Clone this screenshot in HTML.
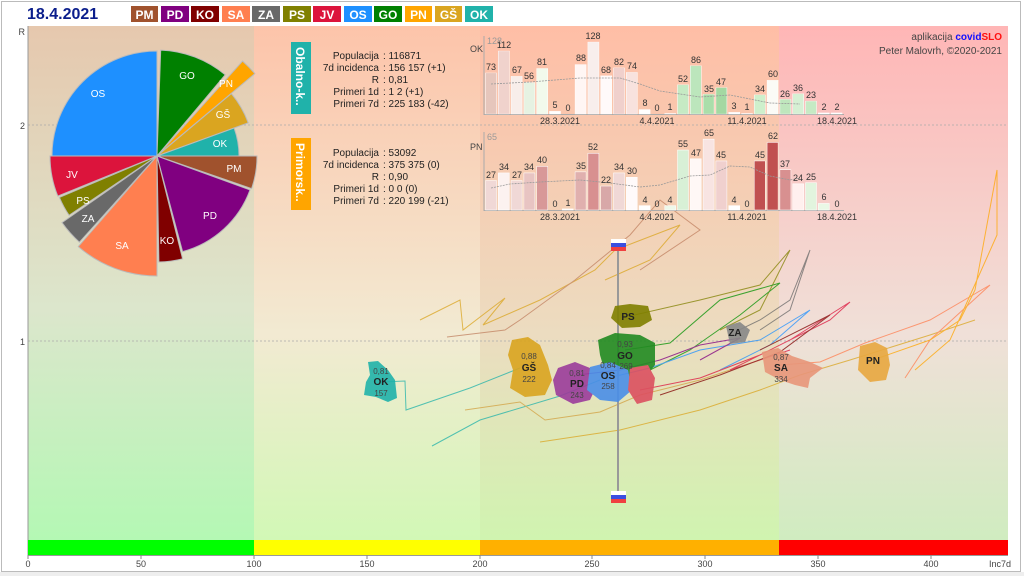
<!DOCTYPE html>
<html><head><meta charset="utf-8"><style>
html,body{margin:0;padding:0;background:#fff;}
svg{display:block;font-family:"Liberation Sans",sans-serif;}
</style></head><body>
<svg width="1024" height="576" viewBox="0 0 1024 576" xmlns="http://www.w3.org/2000/svg">
<defs>
<linearGradient id="g1" x1="0" y1="0" x2="0" y2="1"><stop offset="0" stop-color="#e6c8ae"/><stop offset="0.55" stop-color="#dce6cc"/><stop offset="1" stop-color="#b4f8b4"/></linearGradient>
<linearGradient id="g2" x1="0" y1="0" x2="0" y2="1"><stop offset="0" stop-color="#fdc4aa"/><stop offset="0.6" stop-color="#f2ead2"/><stop offset="1" stop-color="#d2f8b6"/></linearGradient>
<linearGradient id="g3" x1="0" y1="0" x2="0" y2="1"><stop offset="0" stop-color="#ffbea6"/><stop offset="0.6" stop-color="#ecdcc0"/><stop offset="1" stop-color="#d0f4b0"/></linearGradient>
<linearGradient id="g4" x1="0" y1="0" x2="0" y2="1"><stop offset="0" stop-color="#ffb6b6"/><stop offset="0.6" stop-color="#f0e0d8"/><stop offset="1" stop-color="#d0ecc0"/></linearGradient>
</defs>
<rect x="0" y="0" width="1024" height="576" fill="#fff"/>
<rect x="1.5" y="1.5" width="1019" height="570" fill="none" stroke="#bbb"/>
<rect x="0" y="572" width="1024" height="4" fill="#eee"/>

<!-- header -->
<text x="27" y="19" font-size="16" font-weight="bold" fill="#0b1e8c">18.4.2021</text>
<g font-size="12" font-weight="bold" fill="#fff" text-anchor="middle">
<rect x="131" y="6" width="27" height="16" fill="#a0522d"/><text x="144.5" y="19">PM</text>
<rect x="161" y="6" width="28" height="16" fill="#800080"/><text x="175" y="19">PD</text>
<rect x="191" y="6" width="28" height="16" fill="#800000"/><text x="205" y="19">KO</text>
<rect x="222" y="6" width="28" height="16" fill="#ff7f50"/><text x="236" y="19">SA</text>
<rect x="252" y="6" width="28" height="16" fill="#696969"/><text x="266" y="19">ZA</text>
<rect x="283" y="6" width="28" height="16" fill="#808000"/><text x="297" y="19">PS</text>
<rect x="313" y="6" width="28" height="16" fill="#dc143c"/><text x="327" y="19">JV</text>
<rect x="344" y="6" width="28" height="16" fill="#1e90ff"/><text x="358" y="19">OS</text>
<rect x="374" y="6" width="28" height="16" fill="#008000"/><text x="388" y="19">GO</text>
<rect x="405" y="6" width="27" height="16" fill="#ffa500"/><text x="418.5" y="19">PN</text>
<rect x="435" y="6" width="27" height="16" fill="#daa520"/><text x="448.5" y="19">GŠ</text>
<rect x="465" y="6" width="28" height="16" fill="#20b2aa"/><text x="479" y="19">OK</text>
</g>

<!-- plot background -->
<rect x="28" y="26" width="226" height="514" fill="url(#g1)"/>
<rect x="254" y="26" width="226" height="514" fill="url(#g2)"/>
<rect x="480" y="26" width="299" height="514" fill="url(#g3)"/>
<rect x="779" y="26" width="229" height="514" fill="url(#g4)"/>
<line x1="28" y1="125" x2="1008" y2="125" stroke="#aaa" stroke-dasharray="2,2" stroke-width="0.8"/>
<line x1="28" y1="341" x2="1008" y2="341" stroke="#aaa" stroke-dasharray="2,2" stroke-width="0.8"/>
<line x1="28" y1="26" x2="28" y2="556" stroke="#999"/>
<g font-size="9" fill="#444" text-anchor="end">
<text x="25" y="35">R</text><text x="25" y="129">2</text><text x="25" y="345">1</text>
</g>

<!-- color bar -->
<rect x="28" y="540" width="226" height="15" fill="#00ff00"/>
<rect x="254" y="540" width="226" height="15" fill="#ffff00"/>
<rect x="480" y="540" width="299" height="15" fill="#ffb000"/>
<rect x="779" y="540" width="229" height="15" fill="#ff0000"/>
<line x1="28" y1="555.5" x2="1008" y2="555.5" stroke="#999"/>
<g stroke="#888"><line x1="28" y1="555" x2="28" y2="559"/><line x1="141" y1="555" x2="141" y2="559"/><line x1="254" y1="555" x2="254" y2="559"/><line x1="367" y1="555" x2="367" y2="559"/><line x1="480" y1="555" x2="480" y2="559"/><line x1="592" y1="555" x2="592" y2="559"/><line x1="705" y1="555" x2="705" y2="559"/><line x1="818" y1="555" x2="818" y2="559"/><line x1="931" y1="555" x2="931" y2="559"/></g>
<g font-size="9" fill="#444" text-anchor="middle">
<text x="28" y="567">0</text><text x="141" y="567">50</text><text x="254" y="567">100</text><text x="367" y="567">150</text><text x="480" y="567">200</text><text x="592" y="567">250</text><text x="705" y="567">300</text><text x="818" y="567">350</text><text x="931" y="567">400</text><text x="1000" y="567">Inc7d</text>
</g>

<!-- trajectories -->
<g fill="none" stroke-width="1" opacity="0.75">
<polyline stroke="#20b2aa" points="380,382 405,381 406,410 470,388 520,368"/>
<polyline stroke="#20b2aa" points="432,446 480,420 560,396 600,380"/>
<polyline stroke="#daa520" points="420,320 460,300 463,330 505,298 483,325 540,300 595,270 615,250 680,225 650,260 605,280"/>
<polyline stroke="#c08060" points="447,337 505,330 520,320 575,280 630,235 660,200 700,230 640,270"/>
<polyline stroke="#d2a040" points="465,410 520,402 545,420 600,412 640,395 700,380 760,360"/>
<polyline stroke="#daa520" points="540,442 620,430 700,410 760,390 800,375 850,360 930,335 975,320"/>
<polyline stroke="#808000" points="630,316 700,300 760,285 790,250 760,310 720,330"/>
<polyline stroke="#009000" points="625,350 670,343 720,300 780,283 740,315 690,350 650,370"/>
<polyline stroke="#1e90ff" points="608,378 650,368 700,350 760,340 810,310 770,345 720,370"/>
<polyline stroke="#800080" points="577,375 620,370 660,360 700,345 740,338 700,360"/>
<polyline stroke="#dc143c" points="640,390 700,378 760,355 830,320 850,302 790,340 730,370 790,350"/>
<polyline stroke="#800000" points="660,395 720,375 780,352 830,315 760,350"/>
<polyline stroke="#ff7f50" points="780,365 820,362 865,343 930,320 990,285 930,340 905,378"/>
<polyline stroke="#ffa500" points="873,360 930,340 960,320 975,290 997,170 997,235 968,300 950,340 915,370"/>
<polyline stroke="#696969" points="735,332 760,320 790,300 810,250 790,310 760,330"/>
</g>

<!-- Slovenia line -->
<line x1="618" y1="250" x2="618" y2="494" stroke="#999" stroke-width="2"/>
<g><rect x="611" y="239" width="15" height="4" fill="#fff"/><rect x="611" y="243" width="15" height="4" fill="#3a4fe0"/><rect x="611" y="247" width="15" height="4" fill="#f04040"/></g>
<g><rect x="611" y="491" width="15" height="4" fill="#fff"/><rect x="611" y="495" width="15" height="4" fill="#3a4fe0"/><rect x="611" y="499" width="15" height="4" fill="#f04040"/></g>

<!-- blobs -->
<g opacity="0.9">
<path d="M368,362 L378,361 L388,370 L395,380 L397,398 L388,402 L376,397 L364,395 L366,382 L370,375 Z" fill="#20b2aa"/>
<path d="M512,340 L528,337 L540,345 L548,365 L552,380 L545,395 L525,397 L510,388 L513,370 L508,355 Z" fill="#daa520"/>
<path d="M615,306 L630,304 L648,306 L652,320 L640,327 L622,328 L611,318 Z" fill="#808000"/>
<path d="M598,340 L615,333 L640,335 L655,343 L655,365 L643,380 L625,380 L605,372 L600,355 Z" fill="#228b22"/>
<path d="M558,368 L575,362 L590,368 L597,385 L590,400 L573,404 L556,395 L553,380 Z" fill="#9b3c9b"/>
<path d="M590,367 L610,362 L628,370 L632,390 L618,402 L600,400 L587,390 Z" fill="#4a8ee8"/>
<path d="M630,368 L648,365 L655,378 L652,400 L637,404 L628,390 Z" fill="#dc5060"/>
<path d="M726,326 L740,322 L750,330 L745,342 L730,344 Z" fill="#888"/>
<path d="M762,352 L778,348 L792,356 L810,362 L823,368 L810,378 L808,388 L795,385 L780,380 L765,372 Z" fill="#e8967a"/>
<path d="M860,346 L875,342 L887,348 L890,365 L886,380 L870,382 L858,370 Z" fill="#e8a840"/>
</g>
<g text-anchor="middle" font-size="10" fill="#222">
<text x="381" y="374" font-size="8" fill="#444">0,81</text><text x="381" y="385" font-weight="bold">OK</text><text x="381" y="396" font-size="8" fill="#444">157</text>
<text x="529" y="359" font-size="8" fill="#444">0,88</text><text x="529" y="371" font-weight="bold">GŠ</text><text x="529" y="382" font-size="8" fill="#444">222</text>
<text x="628" y="320" font-weight="bold">PS</text>
<text x="625" y="347" font-size="8" fill="#444">0,93</text><text x="625" y="359" font-weight="bold">GO</text><text x="626" y="369" font-size="8" fill="#444">269</text>
<text x="577" y="376" font-size="8" fill="#444">0,81</text><text x="577" y="387" font-weight="bold">PD</text><text x="577" y="398" font-size="8" fill="#444">243</text>
<text x="608" y="368" font-size="8" fill="#444">0,84</text><text x="608" y="379" font-weight="bold">OS</text><text x="608" y="389" font-size="8" fill="#444">258</text>
<text x="735" y="336" font-weight="bold">ZA</text>
<text x="781" y="360" font-size="8" fill="#444">0,87</text><text x="781" y="371" font-weight="bold">SA</text><text x="781" y="382" font-size="8" fill="#444">334</text>
<text x="873" y="364" font-weight="bold">PN</text>
</g>

<!-- pie -->
<g stroke="#bbb" stroke-width="1">
<path d="M157,156 L52,156 A105,105 0 0 1 157,51 Z" fill="#1e90ff"/>
<path d="M157,156 L160.7,50.1 A106,106 0 0 1 225.2,74.8 Z" fill="#008000"/>
<path d="M159,154 L242.6,61.1 A125,125 0 0 1 254.8,73.6 Z" fill="#ffa500"/>
<path d="M157,156 L231.3,93.6 A97,97 0 0 1 248.2,122.8 Z" fill="#daa520"/>
<path d="M157,156 L234.1,128 A82,82 0 0 1 239,156 Z" fill="#20b2aa"/>
<path d="M157,156 L257,156 A100,100 0 0 1 251.6,188.6 Z" fill="#a0522d"/>
<path d="M157,156 L250,189.9 A99,99 0 0 1 182.6,251.6 Z" fill="#800080"/>
<path d="M157,156 L182.6,258.9 A106,106 0 0 1 158.9,262 Z" fill="#800000"/>
<path d="M157,156 L157,276 A120,120 0 0 1 78.3,246.6 Z" fill="#ff7f50"/>
<path d="M157,156 L79.4,242.2 A116,116 0 0 1 62,222.6 Z" fill="#696969"/>
<path d="M157,156 L69.1,215.3 A106,106 0 0 1 59.4,197.4 Z" fill="#808000"/>
<path d="M157,156 L57.8,196.1 A107,107 0 0 1 50,156 Z" fill="#dc143c"/>
</g>
<g font-size="10" fill="#fff" text-anchor="middle">
<text x="98" y="97">OS</text><text x="187" y="79">GO</text><text x="226" y="87">PN</text><text x="223" y="118">GŠ</text><text x="220" y="147">OK</text><text x="234" y="172">PM</text><text x="210" y="219">PD</text><text x="167" y="244">KO</text><text x="122" y="249">SA</text><text x="88" y="222">ZA</text><text x="83" y="204">PS</text><text x="72" y="178">JV</text>
</g>

<!-- info panels -->
<rect x="291" y="42" width="20" height="72" fill="#20b2aa"/>
<text transform="translate(296,47) rotate(90)" font-size="12" font-weight="bold" fill="#fff">Obalno-k..</text>
<rect x="291" y="138" width="20" height="72" fill="#ffa500"/>
<text transform="translate(296,143) rotate(90)" font-size="12" font-weight="bold" fill="#fff">Primorsk..</text>
<g font-size="10" fill="#222">
<g text-anchor="end"><text x="379" y="59">Populacija</text><text x="379" y="71">7d incidenca</text><text x="379" y="83">R</text><text x="379" y="95">Primeri 1d</text><text x="379" y="107">Primeri 7d</text>
<text x="379" y="156">Populacija</text><text x="379" y="168">7d incidenca</text><text x="379" y="180">R</text><text x="379" y="192">Primeri 1d</text><text x="379" y="204">Primeri 7d</text></g>
<text x="383" y="59">:  116871</text><text x="383" y="71">:  156 157 (+1)</text><text x="383" y="83">:  0,81</text><text x="383" y="95">:  1 2 (+1)</text><text x="383" y="107">:  225 183 (-42)</text>
<text x="383" y="156">:  53092</text><text x="383" y="168">:  375 375 (0)</text><text x="383" y="180">:  0,90</text><text x="383" y="192">:  0 0 (0)</text><text x="383" y="204">:  220 199 (-21)</text>
</g>

<!-- bar chart OK -->
<line x1="484" y1="36" x2="484" y2="115" stroke="#aaa"/>
<line x1="484" y1="114.5" x2="844" y2="114.5" stroke="#aaa"/>
<text x="470" y="52" font-size="9" fill="#444">OK</text>
<text x="487" y="44" font-size="9" fill="#999">128</text>
<g transform="translate(0,114) scale(1,-0.5625)" stroke="#fff" stroke-width="0.5">
<rect x="485.5" y="0" width="11" height="73" fill="#e6c6bc"/><rect x="498.3" y="0" width="11" height="112" fill="#f0d2cc"/><rect x="511.1" y="0" width="11" height="67" fill="#f8eeea"/><rect x="523.9" y="0" width="11" height="56" fill="#e6f2e2"/><rect x="536.7" y="0" width="11" height="81" fill="#f2faec"/><rect x="549.5" y="0" width="11" height="5" fill="#fff"/>
<rect x="575.1" y="0" width="11" height="88" fill="#fff6f4"/><rect x="587.9" y="0" width="11" height="128" fill="#f8eeec"/><rect x="600.7" y="0" width="11" height="68" fill="#fffafa"/><rect x="613.5" y="0" width="11" height="82" fill="#f0d0cc"/><rect x="626.3" y="0" width="11" height="74" fill="#f8e2de"/><rect x="639.1" y="0" width="11" height="8" fill="#fff"/><rect x="664.7" y="0" width="11" height="1" fill="#fff"/>
<rect x="677.5" y="0" width="11" height="52" fill="#c6eac4"/><rect x="690.3" y="0" width="11" height="86" fill="#bce6bc"/><rect x="703.1" y="0" width="11" height="35" fill="#aadeaa"/><rect x="715.9" y="0" width="11" height="47" fill="#a4d8a2"/><rect x="728.7" y="0" width="11" height="3" fill="#fff"/><rect x="741.5" y="0" width="11" height="1" fill="#fff"/>
<rect x="754.3" y="0" width="11" height="34" fill="#cef0cc"/><rect x="767.1" y="0" width="11" height="60" fill="#fbfbf6"/><rect x="779.9" y="0" width="11" height="26" fill="#bfe6bd"/><rect x="792.7" y="0" width="11" height="36" fill="#d6f0d4"/><rect x="805.5" y="0" width="11" height="23" fill="#c6eac4"/><rect x="818.3" y="0" width="11" height="2" fill="#fff"/><rect x="831.1" y="0" width="11" height="2" fill="#fff"/>
</g>
<polyline fill="none" stroke="#999" stroke-dasharray="2,1" stroke-width="0.8" points="491,84 530,82 580,78 620,78 640,84 660,91 700,97 730,95 750,99 770,103 800,104"/>
<g font-size="9" fill="#333" text-anchor="middle">
<text x="491" y="70">73</text><text x="504" y="48">112</text><text x="517" y="73">67</text><text x="529" y="79">56</text><text x="542" y="65">81</text><text x="555" y="108">5</text><text x="568" y="111">0</text><text x="581" y="61">88</text><text x="593" y="39">128</text><text x="606" y="73">68</text><text x="619" y="65">82</text><text x="632" y="69">74</text><text x="645" y="106">8</text><text x="657" y="111">0</text><text x="670" y="110">1</text><text x="683" y="82">52</text><text x="696" y="63">86</text><text x="709" y="92">35</text><text x="721" y="85">47</text><text x="734" y="109">3</text><text x="747" y="110">1</text><text x="760" y="92">34</text><text x="773" y="77">60</text><text x="785" y="97">26</text><text x="798" y="91">36</text><text x="811" y="98">23</text><text x="824" y="110">2</text><text x="837" y="110">2</text>
<text x="560" y="124">28.3.2021</text><text x="657" y="124">4.4.2021</text><text x="747" y="124">11.4.2021</text><text x="837" y="124">18.4.2021</text>
</g>

<!-- bar chart PN -->
<line x1="484" y1="132" x2="484" y2="211" stroke="#aaa"/>
<line x1="484" y1="210.5" x2="844" y2="210.5" stroke="#aaa"/>
<text x="470" y="150" font-size="9" fill="#444">PN</text>
<text x="487" y="140" font-size="9" fill="#999">65</text>
<g transform="translate(0,210) scale(1,-1.09)" stroke="#fff" stroke-width="0.5">
<rect x="485.5" y="0" width="11" height="27" fill="#f0d8d6"/><rect x="498.3" y="0" width="11" height="34" fill="#fcf2f0"/><rect x="511.1" y="0" width="11" height="27" fill="#f0d8d6"/><rect x="523.9" y="0" width="11" height="34" fill="#e8c4c2"/><rect x="536.7" y="0" width="11" height="40" fill="#d89898"/><rect x="562.3" y="0" width="11" height="1" fill="#fff"/>
<rect x="575.1" y="0" width="11" height="35" fill="#e0b0ae"/><rect x="587.9" y="0" width="11" height="52" fill="#d89090"/><rect x="600.7" y="0" width="11" height="22" fill="#d8a8a8"/><rect x="613.5" y="0" width="11" height="34" fill="#f0d8d6"/><rect x="626.3" y="0" width="11" height="30" fill="#fffafa"/><rect x="639.1" y="0" width="11" height="4" fill="#fff"/><rect x="664.7" y="0" width="11" height="4" fill="#eef8ea"/>
<rect x="677.5" y="0" width="11" height="55" fill="#d8f0d6"/><rect x="690.3" y="0" width="11" height="47" fill="#fff8f6"/><rect x="703.1" y="0" width="11" height="65" fill="#f8e4e2"/><rect x="715.9" y="0" width="11" height="45" fill="#f0d0ce"/><rect x="728.7" y="0" width="11" height="4" fill="#fff"/>
<rect x="754.3" y="0" width="11" height="45" fill="#c05050"/><rect x="767.1" y="0" width="11" height="62" fill="#c05050"/><rect x="779.9" y="0" width="11" height="37" fill="#d89090"/><rect x="792.7" y="0" width="11" height="24" fill="#fff0ee"/><rect x="805.5" y="0" width="11" height="25" fill="#e2f4de"/><rect x="818.3" y="0" width="11" height="6" fill="#eaf8e6"/>
</g>
<polyline fill="none" stroke="#999" stroke-dasharray="2,1" stroke-width="0.8" points="491,188 510,184 540,182 580,180 610,183 640,187 660,185 690,176 710,175 730,166 750,167 770,176 790,180 800,178"/>
<g font-size="9" fill="#333" text-anchor="middle">
<text x="491" y="178">27</text><text x="504" y="170">34</text><text x="517" y="178">27</text><text x="529" y="170">34</text><text x="542" y="163">40</text><text x="555" y="207">0</text><text x="568" y="206">1</text><text x="581" y="169">35</text><text x="593" y="150">52</text><text x="606" y="183">22</text><text x="619" y="170">34</text><text x="632" y="174">30</text><text x="645" y="203">4</text><text x="657" y="207">0</text><text x="670" y="203">4</text><text x="683" y="147">55</text><text x="696" y="156">47</text><text x="709" y="136">65</text><text x="721" y="158">45</text><text x="734" y="203">4</text><text x="747" y="207">0</text><text x="760" y="158">45</text><text x="773" y="139">62</text><text x="785" y="167">37</text><text x="798" y="181">24</text><text x="811" y="180">25</text><text x="824" y="200">6</text><text x="837" y="207">0</text>
<text x="560" y="220">28.3.2021</text><text x="657" y="220">4.4.2021</text><text x="747" y="220">11.4.2021</text><text x="837" y="220">18.4.2021</text>
</g>

<!-- credits -->
<text x="1002" y="40" font-size="10" fill="#444" text-anchor="end">aplikacija <tspan fill="#1010ff" font-weight="bold">covid</tspan><tspan fill="#ff1010" font-weight="bold">SLO</tspan></text>
<text x="1002" y="54" font-size="10" fill="#444" text-anchor="end">Peter Malovrh, ©2020-2021</text>
</svg>
</body></html>
